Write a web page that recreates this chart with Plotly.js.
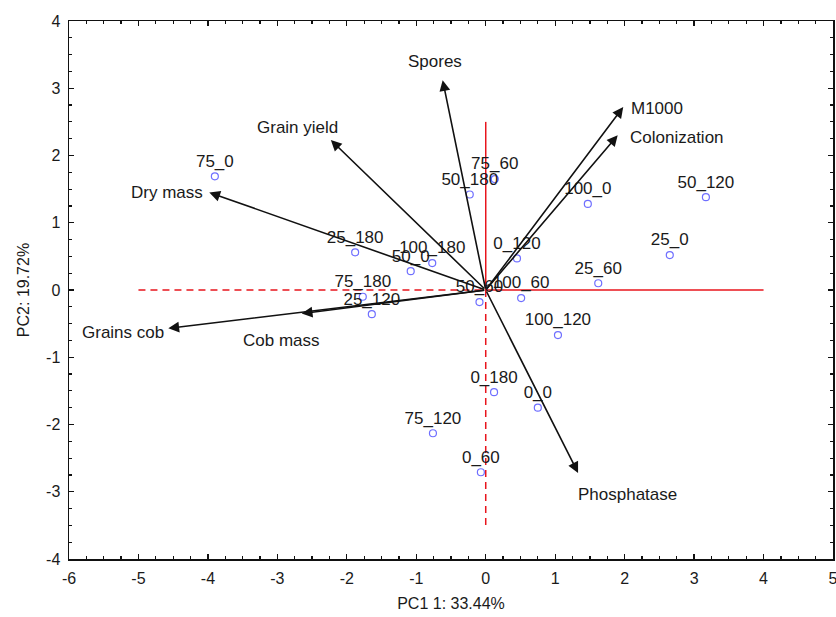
<!DOCTYPE html>
<html>
<head>
<meta charset="utf-8">
<script src="https://cdn.plot.ly/plotly-3.0.1.min.js"></script>
<style>html,body{margin:0;padding:0;background:#fff;}#chart{width:836px;height:617px;}</style>
</head>
<body>
<div id="chart"></div>
<script>
// Case scores (treatments)
const caseLabels = ["75_0","75_60","50_180","100_0","50_120","25_0","25_60","0_120","25_180","100_180","50_0","75_180","25_120","50_60","100_60","100_120","0_180","0_0","75_120","0_60"];
const caseX = [-3.90, 0.13, -0.23, 1.47, 3.17, 2.65, 1.62, 0.45, -1.88, -0.77, -1.08, -1.77, -1.64, -0.09, 0.51, 1.04, 0.12, 0.75, -0.76, -0.07];
const caseY = [1.69, 1.65, 1.42, 1.28, 1.38, 0.52, 0.10, 0.47, 0.56, 0.40, 0.28, -0.10, -0.36, -0.18, -0.12, -0.67, -1.52, -1.75, -2.13, -2.71];

// Variable loadings (vectors)
const varLabels = ["Spores","Grain yield","Dry mass","Grains cob","Cob mass","M1000","Colonization","Phosphatase"];
const varX = [-0.62, -2.23, -3.98, -4.57, -2.65, 1.98, 1.90, 1.33];
const varY = [3.12, 2.23, 1.45, -0.57, -0.35, 2.72, 2.30, -2.72];

// Reference lines
const hSolidX = [0, 4], hSolidY = [0, 0];
const hDashX = [-5, 0], hDashY = [0, 0];
const vSolidX = [0, 0], vSolidY = [0, 2.5];
const vDashX = [0, 0], vDashY = [0, -3.5];

// Tick labels
const xTicks = [-6,-5,-4,-3,-2,-1,0,1,2,3,4,5];
const yTicks = [-4,-3,-2,-1,0,1,2,3,4];

const FONT = "Liberation Sans, Arial, sans-serif";

// label placement style per variable: [xanchor, yanchor, xshift, yshift]
const varLabelStyle = {
  "Spores": ["center","bottom",-8,7],
  "Grain yield": ["center","bottom",-33,1],
  "Dry mass": ["right","middle",-4,0],
  "Grains cob": ["right","middle",-2,-4],
  "Cob mass": ["center","top",-20,-15],
  "M1000": ["left","middle",6,-1],
  "Colonization": ["left","middle",10,-2],
  "Phosphatase": ["left","top",-2,-10]
};

const traces = [
  {x: hSolidX, y: hSolidY, mode: "lines", line: {color: "#e8141c", width: 1.5}, hoverinfo: "skip"},
  {x: hDashX, y: hDashY, mode: "lines", line: {color: "#e8141c", width: 1.5, dash: "7px,5px"}, hoverinfo: "skip"},
  {x: vSolidX, y: vSolidY, mode: "lines", line: {color: "#e8141c", width: 1.5}, hoverinfo: "skip"},
  {x: vDashX, y: vDashY, mode: "lines", line: {color: "#e8141c", width: 1.5, dash: "7px,5px"}, hoverinfo: "skip"},
  {x: caseX, y: caseY, text: caseLabels, mode: "markers+text", textposition: "top center",
   textfont: {family: FONT, size: 17, color: "#1a1a1a"},
   marker: {symbol: "circle-open", size: 7, color: "#6f6fff", line: {width: 1.2, color: "#6f6fff"}}}
];

const annotations = [];
varLabels.forEach((lab, i) => {
  annotations.push({x: varX[i], y: varY[i], ax: 0, ay: 0, xref: "x", yref: "y", axref: "x", ayref: "y",
    text: "", showarrow: true, arrowhead: 2, arrowsize: 1.35, arrowwidth: 1.6, arrowcolor: "#111"});
  const s = varLabelStyle[lab];
  annotations.push({x: varX[i], y: varY[i], xref: "x", yref: "y", text: lab, showarrow: false,
    xanchor: s[0], yanchor: s[1], xshift: s[2], yshift: s[3],
    font: {family: FONT, size: 17, color: "#1a1a1a"}});
});

const axisCommon = {
  showgrid: false, zeroline: false, showline: true, linecolor: "#111", linewidth: 1.5,
  mirror: "ticks", ticks: "inside", ticklen: 5, tickwidth: 1.3, tickcolor: "#111",
  ticklabeloverflow: "allow", ticklabelstandoff: 4,
  tickfont: {family: FONT, size: 16, color: "#1a1a1a"},
  minor: {dtick: 0.25, ticks: "inside", ticklen: 3, tickwidth: 1.2, tickcolor: "#111"}
};

const layout = {
  width: 836, height: 617,
  margin: {l: 69, r: 3, t: 21, b: 58},
  paper_bgcolor: "#fff", plot_bgcolor: "#fff",
  showlegend: false,
  xaxis: Object.assign({}, axisCommon, {range: [-6, 5], tickvals: xTicks, ticktext: xTicks.map(String),
    title: {text: "PC1 1: 33.44%", font: {family: FONT, size: 16, color: "#1a1a1a"}, standoff: 12}}),
  yaxis: Object.assign({}, axisCommon, {range: [-4, 4], tickvals: yTicks, ticktext: yTicks.map(String),
    title: {text: "PC2: 19.72%", font: {family: FONT, size: 16, color: "#1a1a1a"}, standoff: 12}}),
  annotations: annotations
};

Plotly.newPlot("chart", traces, layout, {staticPlot: true, displayModeBar: false});
</script>
</body>
</html>
